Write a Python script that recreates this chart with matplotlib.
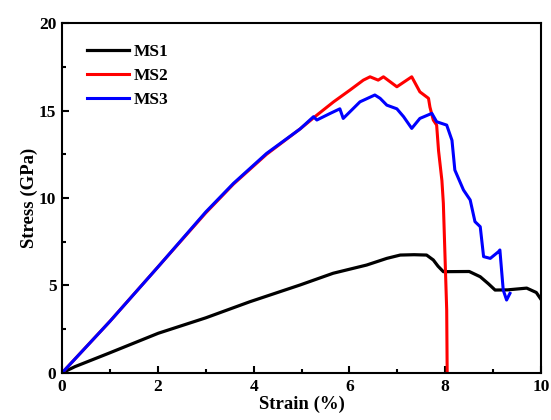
import matplotlib
matplotlib.use("Agg")
import matplotlib.pyplot as plt
from matplotlib.ticker import MultipleLocator

plt.rcParams['font.family'] = ['Liberation Serif', 'DejaVu Serif']
plt.rcParams['font.weight'] = 'bold'

# strain (%) / stress (GPa)
ms1_x = [0, 0.27, 0.97, 2.01, 3.0, 3.92, 4.97, 5.66, 6.36, 6.78, 7.06, 7.35, 7.61, 7.75,
         7.85, 7.96, 8.5, 8.73, 8.9, 9.04, 9.3, 9.5, 9.7, 9.9, 10]
ms1_y = [0, 0.36, 1.12, 2.27, 3.15, 4.07, 5.03, 5.7, 6.17, 6.55, 6.74, 6.76, 6.74, 6.46,
         6.1, 5.79, 5.8, 5.5, 5.1, 4.74, 4.75, 4.8, 4.85, 4.6, 4.2]

ms2_x = [0, 1, 2, 3, 3.58, 4.27, 4.97, 5.32, 5.67, 6.01, 6.29, 6.43, 6.6, 6.71, 6.99,
         7.3, 7.47, 7.65, 7.68, 7.75, 7.82, 7.86, 7.93, 7.96, 8.03, 8.04]
ms2_y = [0, 2.95, 6.05, 9.15, 10.8, 12.5, 13.95, 14.74, 15.5, 16.17, 16.74, 16.93, 16.74,
         16.93, 16.36, 16.93, 16.07, 15.7, 15.2, 14.46, 14.17, 12.7, 11.0, 9.7, 3.6, 0]

ms3_x = [0, 1, 2, 3, 3.58, 4.27, 4.97, 5.25, 5.32, 5.6, 5.8, 5.87, 6.22, 6.53, 6.64,
         6.78, 6.99, 7.13, 7.3, 7.47, 7.72, 7.82, 8.03, 8.14, 8.2, 8.38, 8.52, 8.62,
         8.73, 8.8, 8.94, 9.11, 9.14, 9.21, 9.28, 9.35]
ms3_y = [0, 2.95, 6.05, 9.2, 10.84, 12.55, 13.95, 14.65, 14.46, 14.84, 15.1, 14.55, 15.5,
         15.89, 15.7, 15.31, 15.1, 14.65, 13.98, 14.55, 14.84, 14.36, 14.17, 13.3, 11.6,
         10.46, 9.89, 8.65, 8.36, 6.65, 6.55, 6.93, 7.03, 4.74, 4.17, 4.55]

fig = plt.figure(figsize=(5.51, 4.2), dpi=100)
ax = fig.add_axes([0.1125, 0.112, 0.8695, 0.833])

ax.plot(ms1_x, ms1_y, color='black', lw=2.3, label='MS1')
ax.plot(ms2_x, ms2_y, color='red', lw=2.2, label='MS2')
ax.plot(ms3_x, ms3_y, color='blue', lw=2.2, label='MS3')

ax.set_xlim(0, 10)
ax.set_ylim(0, 20)
ax.xaxis.set_major_locator(MultipleLocator(2))
ax.xaxis.set_minor_locator(MultipleLocator(1))
ax.yaxis.set_major_locator(MultipleLocator(5))
ax.yaxis.set_minor_locator(MultipleLocator(2.5))
ax.tick_params(which='both', direction='in', width=1.5, labelsize=12.5, pad=4)
ax.tick_params(which='major', length=5)
ax.tick_params(which='minor', length=3)
for s in ax.spines.values():
    s.set_linewidth(1.5)

ax.set_xlabel('Strain (%)', fontsize=13.5, fontweight='bold', labelpad=1)
ax.set_ylabel('Stress (GPa)', fontsize=13.5, fontweight='bold', labelpad=1)

ax.legend(loc='upper left', bbox_to_anchor=(0.02, 0.985), frameon=False, fontsize=12.5,
          handlelength=2.4, handletextpad=0.3, labelspacing=0.45)

fig.savefig('out.png', dpi=100)
